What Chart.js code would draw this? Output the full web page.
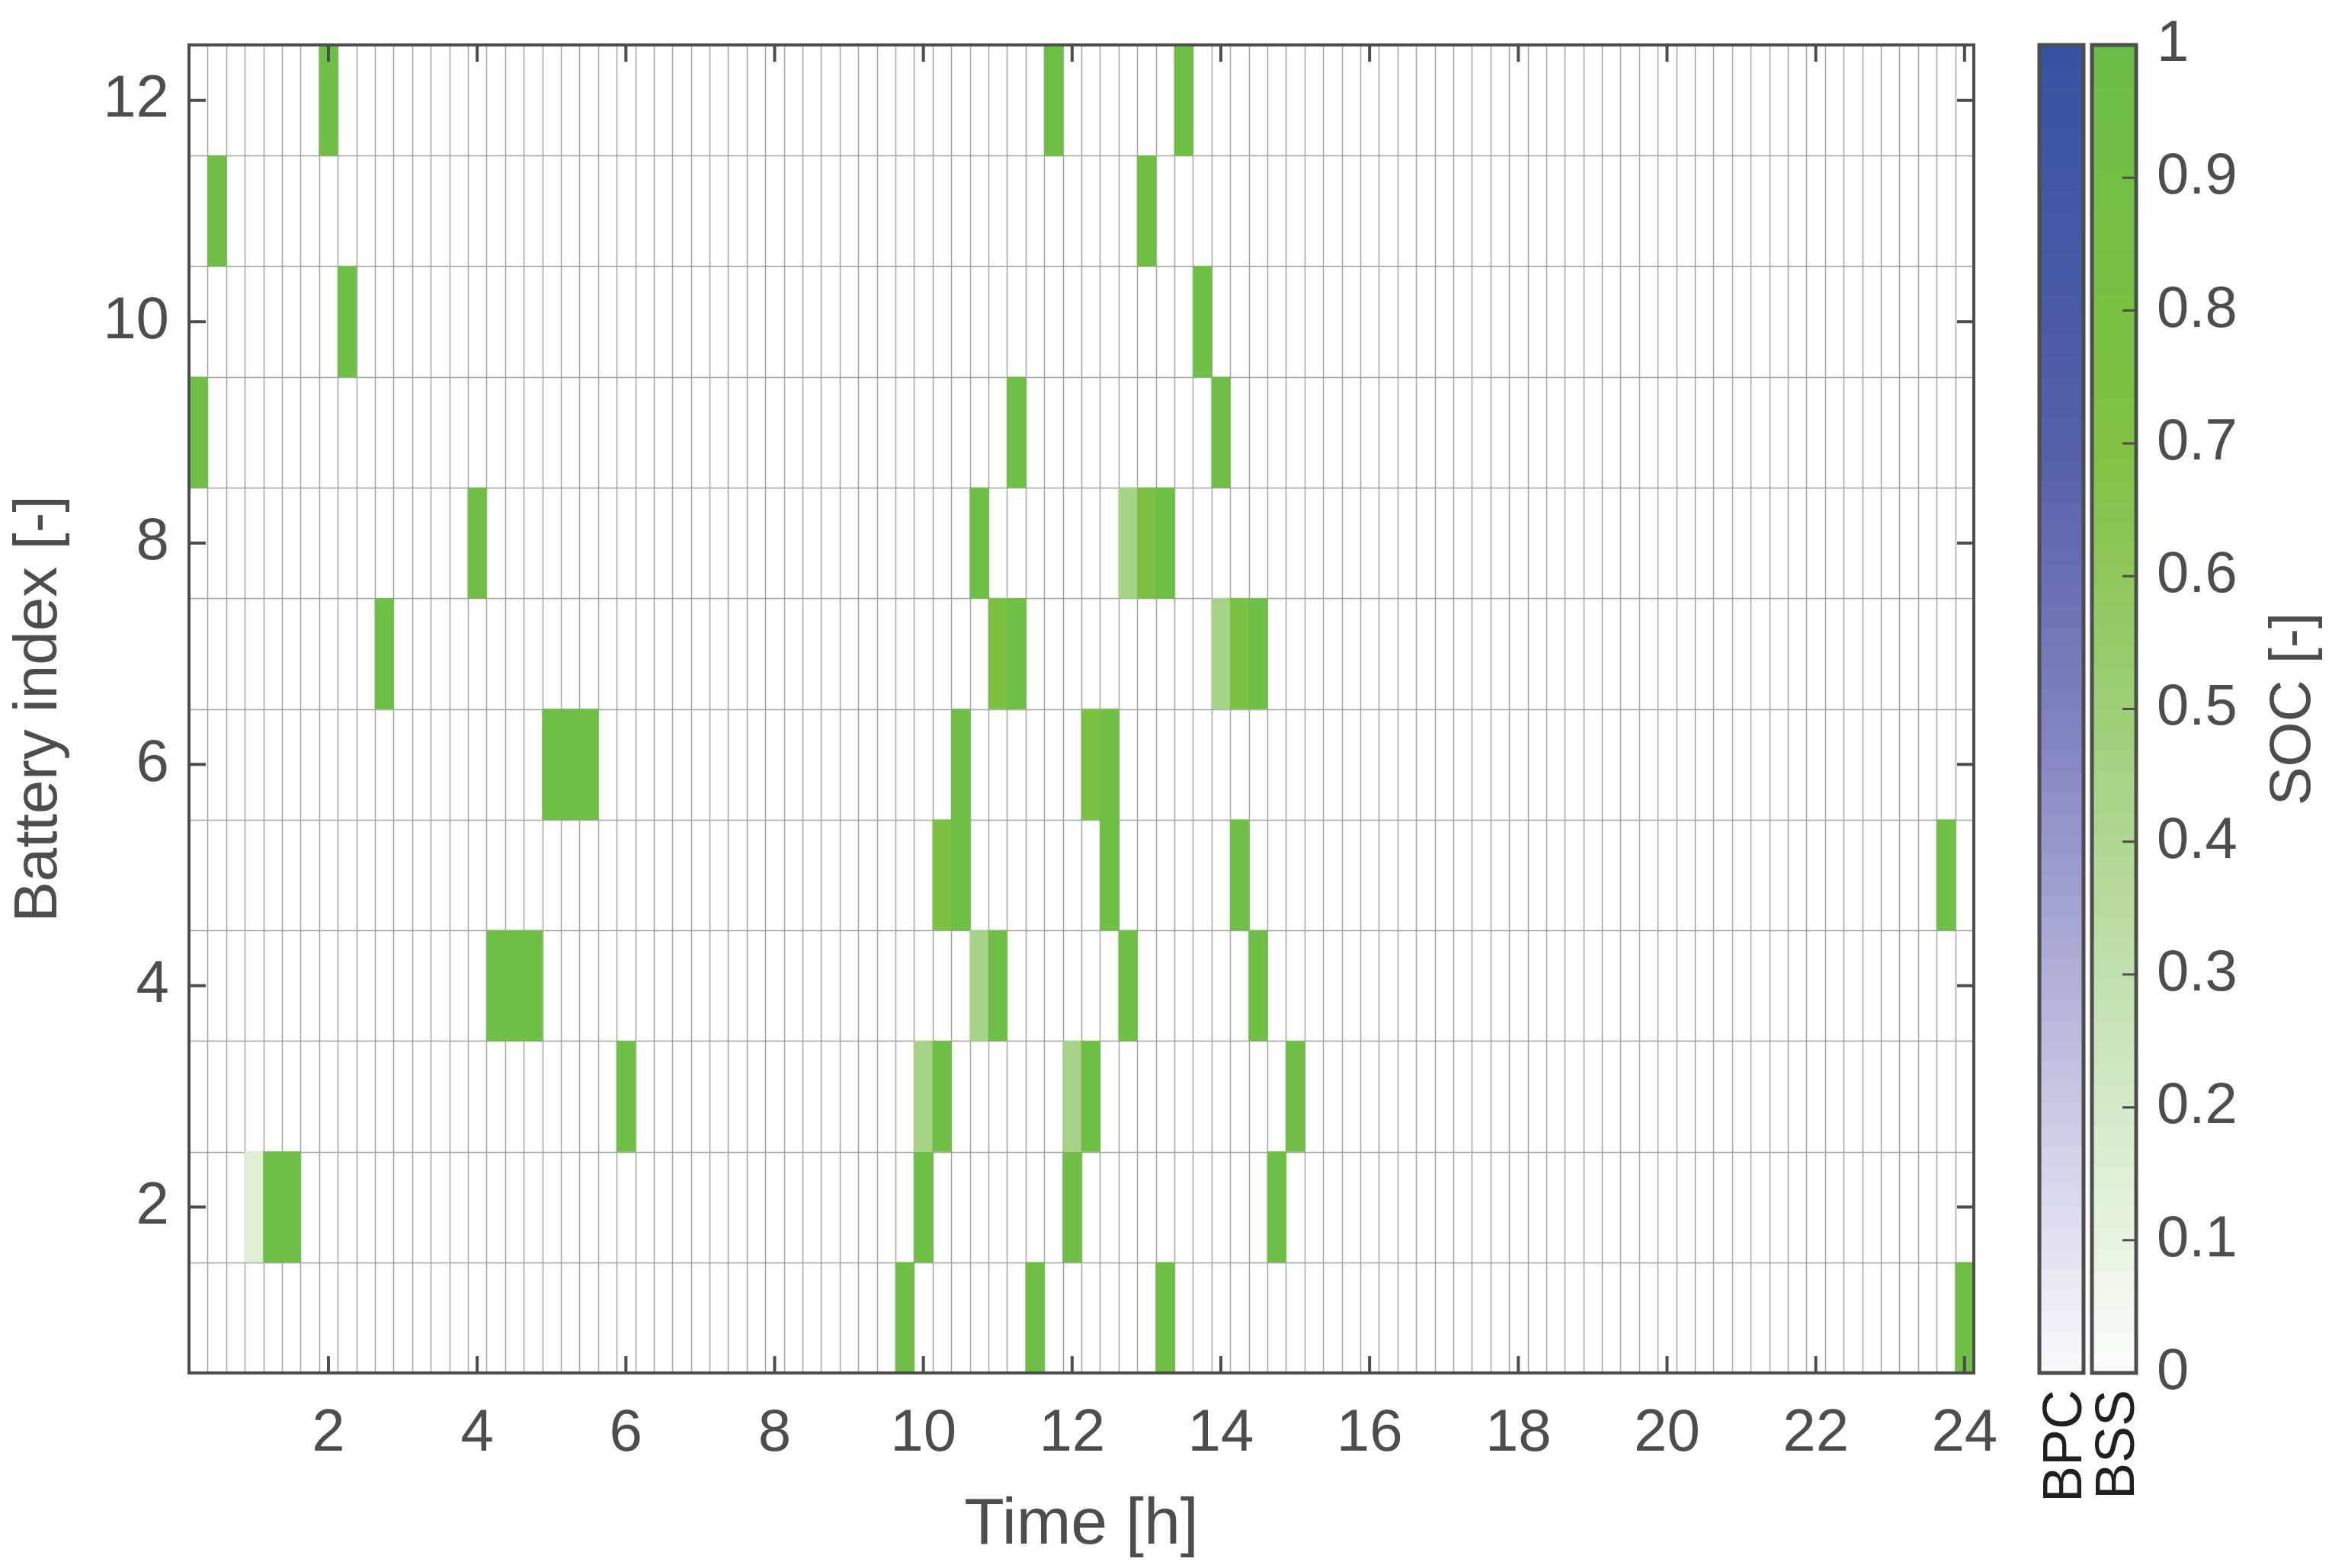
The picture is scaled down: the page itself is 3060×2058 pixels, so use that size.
<!DOCTYPE html>
<html>
<head>
<meta charset="utf-8">
<script src="https://cdn.jsdelivr.net/npm/chart.js@4"></script>
<style>
  html, body { margin: 0; padding: 0; background: #fff; }
  #box { width: 3060px; height: 2058px; }
</style>
</head>
<body>
<div id="box"><canvas id="myChart" width="3060" height="2058"></canvas></div>
<script>
// battery swap station usage, 15 min slots
var cellTime    = [0.25, 1.0, 1.25, 1.5, 2.0, 2.25, 2.75, 4.0, 0.5, 4.25, 4.5, 4.75, 5.0, 5.25, 5.5, 6.0,
                   9.75, 10.0, 10.0, 10.25, 10.25, 10.5, 10.5, 10.75, 10.75, 11.0, 11.0, 11.25, 11.25, 11.5, 11.75,
                   12.0, 12.0, 12.25, 12.25, 12.5, 12.5, 12.75, 12.75, 13.0, 13.0, 13.25, 13.25, 13.5, 13.75,
                   14.0, 14.0, 14.25, 14.25, 14.5, 14.5, 14.75, 15.0, 23.75, 24.0]
var cellBattery = [9, 2, 2, 2, 12, 10, 7, 8, 11, 4, 4, 4, 6, 6, 6, 3,
                   1, 2, 3, 3, 5, 5, 6, 4, 8, 4, 7, 7, 9, 1, 12,
                   2, 3, 3, 6, 5, 6, 4, 8, 8, 11, 1, 8, 12, 10,
                   7, 9, 5, 7, 4, 7, 2, 3, 5, 1]
var cellSoc     = [0.95, 0.15, 0.95, 0.95, 0.95, 0.95, 0.95, 0.95, 0.95, 0.95, 0.95, 0.95, 0.95, 0.95, 0.95, 0.95,
                   0.95, 0.95, 0.45, 0.95, 0.75, 0.95, 0.95, 0.45, 0.95, 0.95, 0.75, 0.95, 0.95, 0.95, 0.95,
                   0.95, 0.45, 0.95, 0.75, 0.95, 0.95, 0.95, 0.45, 0.75, 0.95, 0.95, 0.95, 0.95, 0.95,
                   0.45, 0.95, 0.95, 0.75, 0.95, 0.95, 0.95, 0.95, 0.95, 0.95]

var xTicks = [2, 4, 6, 8, 10, 12, 14, 16, 18, 20, 22, 24]
var yTicks = [2, 4, 6, 8, 10, 12]
var socTicks = [0, 0.1, 0.2, 0.3, 0.4, 0.5, 0.6, 0.7, 0.8, 0.9, 1]
var barNames = ["BPC", "BSS"]

var greenStops = [[0, [251, 253, 250]], [0.3, [192, 224, 173]], [0.5, [157, 207, 120]], [0.7, [128, 194, 66]], [1, [107, 189, 69]]]
var blueStops  = [[0, [250, 250, 253]], [0.3, [176, 176, 216]], [0.5, [126, 128, 191]], [0.7, [84, 95, 168]], [1, [55, 83, 162]]]

function mapColor(stops, v) {
	for (var i = 1; i < stops.length; i++) {
		if (v <= stops[i][0]) {
			var a = stops[i-1], b = stops[i]
			var t = (v - a[0]) / (b[0] - a[0])
			var c = a[1].map(function(e, k){ return Math.round(e + (b[1][k] - e) * t) })
			return "rgb(" + c.join(",") + ")"
		}
	}
	return "rgb(" + stops[stops.length-1][1].join(",") + ")"
}

var ink = "#4d4d4d"
var FONT = "'Liberation Sans', Arial, sans-serif"

var cells = cellTime.map(function(t, i){ return {x: t, y: [cellBattery[i] - 0.5, cellBattery[i] + 0.5]} })

var framePlugin = {
	id: "frame",
	beforeDatasetsDraw: function(chart) {
		var ctx = chart.ctx, xs = chart.scales.x, ys = chart.scales.y, a = chart.chartArea
		ctx.save()
		ctx.strokeStyle = "#a3a3a3"
		ctx.lineWidth = 1.5
		ctx.beginPath()
		for (var k = 0; k <= 96; k++) {
			var px = Math.round(xs.getPixelForValue(0.125 + k * 0.25)) + 0.5
			ctx.moveTo(px, a.top); ctx.lineTo(px, a.bottom)
		}
		for (var r = 0; r <= 12; r++) {
			var py = Math.round(ys.getPixelForValue(0.5 + r)) + 0.5
			ctx.moveTo(a.left, py); ctx.lineTo(a.right, py)
		}
		ctx.stroke()
		ctx.restore()
	},
	afterDatasetsDraw: function(chart) {
		var ctx = chart.ctx, xs = chart.scales.x, ys = chart.scales.y, a = chart.chartArea
		ctx.save()
		ctx.strokeStyle = ink
		ctx.lineWidth = 4
		ctx.strokeRect(a.left, a.top, a.right - a.left, a.bottom - a.top)
		ctx.beginPath()
		var tl = 22
		xTicks.forEach(function(v){
			var px = xs.getPixelForValue(v)
			ctx.moveTo(px, a.bottom); ctx.lineTo(px, a.bottom - tl)
			ctx.moveTo(px, a.top); ctx.lineTo(px, a.top + tl)
		})
		yTicks.forEach(function(v){
			var py = ys.getPixelForValue(v)
			ctx.moveTo(a.left, py); ctx.lineTo(a.left + tl, py)
			ctx.moveTo(a.right, py); ctx.lineTo(a.right - tl, py)
		})
		ctx.stroke()

		// colorbars BPC / BSS
		var bars = [{x0: 2676, stops: blueStops}, {x0: 2745, stops: greenStops}]
		var bw = 58, top = a.top, bot = a.bottom
		bars.forEach(function(b, bi){
			var n = 64
			for (var i = 0; i < n; i++) {
				var y0 = bot - (i + 1) * (bot - top) / n
				ctx.fillStyle = mapColor(b.stops, (i + 0.5) / n)
				ctx.fillRect(b.x0, y0, bw, (bot - top) / n + 1)
			}
			ctx.lineWidth = 5
			ctx.strokeStyle = ink
			ctx.strokeRect(b.x0, top, bw, bot - top)
			ctx.save()
			ctx.translate(b.x0 + bw / 2 + 26, bot + 22)
			ctx.rotate(-Math.PI / 2)
			ctx.fillStyle = "#231f20"
			ctx.font = "72px " + FONT
			ctx.textAlign = "right"
			ctx.fillText(barNames[bi], 0, 0)
			ctx.restore()
		})
		ctx.lineWidth = 3
		ctx.beginPath()
		socTicks.forEach(function(v){
			var py = bot - v * (bot - top)
			ctx.moveTo(2745 + bw, py); ctx.lineTo(2745 + bw - 18, py)
		})
		ctx.stroke()
		ctx.fillStyle = ink
		ctx.font = "76px " + FONT
		ctx.textAlign = "left"
		ctx.textBaseline = "middle"
		socTicks.forEach(function(v){
			ctx.fillText(String(v), 2830, bot - v * (bot - top))
		})
		ctx.save()
		ctx.translate(3010, (top + bot) / 2)
		ctx.rotate(-Math.PI / 2)
		ctx.textAlign = "center"
		ctx.font = "76px " + FONT
		ctx.fillText("SOC [-]", 0, 0)
		ctx.restore()
		ctx.restore()
	}
}

var config = {
	type: "bar",
	data: {
		datasets: [{
			data: cells,
			backgroundColor: cellSoc.map(function(v){ return mapColor(greenStops, v) }),
			borderWidth: 0,
			barPercentage: 1,
			categoryPercentage: 1,
			grouped: false
		}]
	},
	options: {
		responsive: false,
		animation: false,
		devicePixelRatio: 1,
		layout: { padding: { top: 59, right: 470, left: 0, bottom: 0 } },
		plugins: { legend: { display: false }, tooltip: { enabled: false } },
		scales: {
			x: {
				type: "linear", min: 0.125, max: 24.125, offset: false,
				grid: { display: false, drawTicks: false }, border: { display: false },
				afterBuildTicks: function(s){ s.ticks = xTicks.map(function(v){ return {value: v} }) },
				afterFit: function(s){ s.height = 256; s.paddingLeft = 0; s.paddingRight = 0 },
				ticks: { color: ink, font: { family: FONT, size: 78 }, padding: 34, maxRotation: 0, autoSkip: false },
				title: { display: true, text: "Time [h]", color: ink, font: { family: FONT, size: 86 }, padding: { top: 4 } }
			},
			y: {
				type: "linear", min: 0.5, max: 12.5,
				grid: { display: false, drawTicks: false }, border: { display: false },
				afterBuildTicks: function(s){ s.ticks = yTicks.map(function(v){ return {value: v} }) },
				afterFit: function(s){ s.width = 248; s.paddingTop = 0; s.paddingBottom = 0 },
				ticks: { color: ink, font: { family: FONT, size: 78 }, padding: 26, autoSkip: false },
				title: { display: true, text: "Battery index [-]", color: ink, font: { family: FONT, size: 80 }, padding: { bottom: 10 } }
			}
		}
	},
	plugins: [framePlugin]
}

var myChart = new Chart(document.getElementById("myChart").getContext("2d"), config)
</script>
</body>
</html>
